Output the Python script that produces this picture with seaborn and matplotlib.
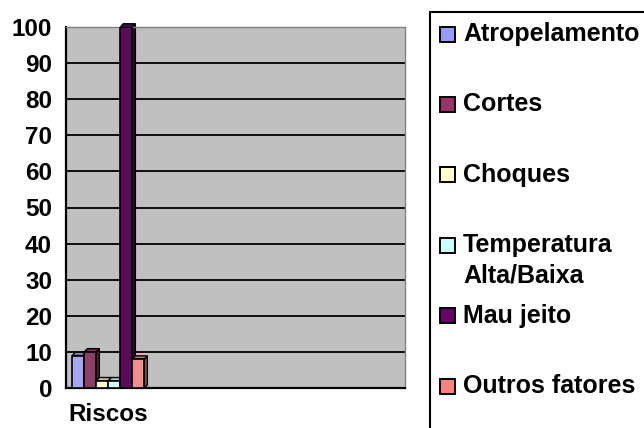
import pandas as pd
import matplotlib.pyplot as plt
import seaborn as sns
from matplotlib.patches import Polygon, Rectangle

# Data
categories = ['Riscos']
series = ['Atropelamento', 'Cortes', 'Choques', 'Temperatura\nAlta/Baixa', 'Mau jeito', 'Outros fatores']
values = [9, 10, 2, 2, 100, 8]
colors = ['#9999FF', '#993366', '#FFFFCC', '#CCFFFF', '#660066', '#FF8080']

df = pd.DataFrame({'Categoria': categories * len(series), 'Serie': series, 'Valor': values})

sns.set_style('white')
plt.rcParams['font.family'] = ['Liberation Sans', 'DejaVu Sans']
plt.rcParams['font.weight'] = 'bold'
plt.rcParams['text.color'] = 'black'
plt.rcParams['xtick.color'] = 'black'
plt.rcParams['ytick.color'] = 'black'

W, H = 644, 428
fig = plt.figure(figsize=(W / 100, H / 100), dpi=100)
ax = fig.add_axes([66 / W, 1 - 388 / H, (405 - 66) / W, (388 - 27) / H])
ax.set_facecolor('#C0C0C0')

sns.barplot(data=df, x='Categoria', y='Valor', hue='Serie', palette=colors,
            width=0.85, edgecolor='black', linewidth=1.2, ax=ax, legend=False, zorder=3)

# small 3D look: dark side and top on each bar
dx, dy = 0.035, 0.9
for p in list(ax.patches):
    x0, w, h = p.get_x(), p.get_width(), p.get_height()
    fc = p.get_facecolor()
    side = Polygon([[x0 + w, 0], [x0 + w + dx, dy], [x0 + w + dx, h + dy], [x0 + w, h]],
                   closed=True, facecolor=[c * 0.6 for c in fc[:3]], edgecolor='black', lw=1.0,
                   zorder=2.5, clip_on=False)
    top = Polygon([[x0, h], [x0 + dx, h + dy], [x0 + w + dx, h + dy], [x0 + w, h]],
                  closed=True, facecolor=[c * 0.8 for c in fc[:3]], edgecolor='black', lw=1.0,
                  zorder=2.5, clip_on=False)
    ax.add_patch(side)
    ax.add_patch(top)

ax.set_ylim(0, 100)
ax.set_xlim(-0.5, 3.5)
ax.set_yticks(range(0, 101, 10))
ax.yaxis.grid(True, color='black', linewidth=1.3, zorder=1)
ax.set_axisbelow(True)
ax.set_xticks([-0.5, 0.5, 1.5, 2.5, 3.5])
ax.set_xticklabels(['', '', '', '', ''])
ax.set_xticks([0], minor=True)
ax.set_xticklabels(['Riscos'], minor=True)
ax.tick_params(axis='x', which='major', length=6, width=1.3, direction='out', color='black')
ax.tick_params(axis='x', which='minor', length=0, pad=11, labelsize=17.5, labelcolor='black')
ax.tick_params(axis='y', length=8, width=1.3, direction='out', color='black', labelsize=17.5,
               pad=2, labelcolor='black')
for t in ax.get_yticklabels() + ax.get_xticklabels(minor=True):
    t.set_fontweight('bold')
ax.set_xlabel('')
ax.set_ylabel('')
for s in ['top', 'right']:
    ax.spines[s].set_color('#808080')
    ax.spines[s].set_linewidth(1.0)
for s in ['left', 'bottom']:
    ax.spines[s].set_color('black')
    ax.spines[s].set_linewidth(1.6)

# legend box drawn like the Excel one (runs off the right and bottom edges)
fig.patches.append(Rectangle((430 / W, 1 - 440 / H), 230 / W, 428 / H, transform=fig.transFigure,
                             facecolor='white', edgecolor='black', linewidth=1.5))
for i, (name, c) in enumerate(zip(series, colors)):
    yc = 34 + 70.4 * i
    fig.patches.append(Rectangle((440 / W, 1 - (yc + 7.5) / H), 15 / W, 15 / H, transform=fig.transFigure,
                                 facecolor=c, edgecolor='black', linewidth=1.4))
    fig.text(463 / W, 1 - (yc - 12) / H, name, fontsize=18, fontweight='bold', color='black',
             va='top', ha='left', linespacing=1.35)

plt.savefig('out.png', dpi=100)
